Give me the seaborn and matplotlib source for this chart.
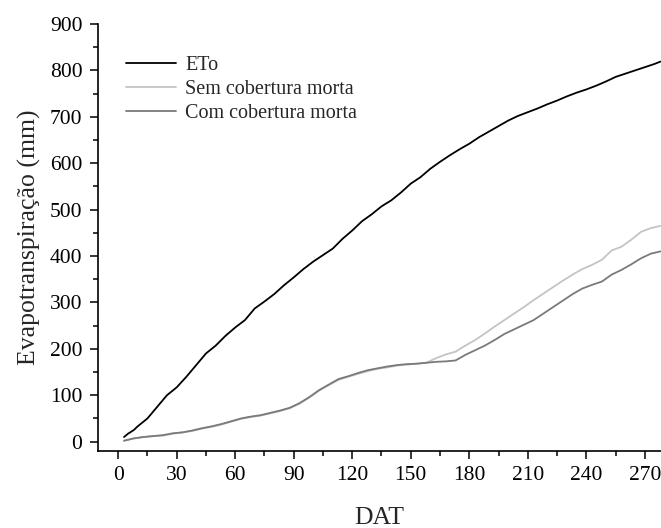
import numpy as np
import pandas as pd
import matplotlib
matplotlib.use("Agg")
import matplotlib.pyplot as plt
from matplotlib.ticker import MultipleLocator
import seaborn as sns

# ---- data ----
dat_eto = [3, 5, 8, 10, 15, 20, 25, 30, 35, 40, 45, 50, 55, 60, 65, 70, 75, 80, 85, 90,
           95, 100, 105, 110, 115, 120, 125, 130, 135, 140, 145, 150, 155, 160, 165, 170,
           175, 180, 185, 190, 195, 200, 205, 210, 215, 220, 225, 230, 235, 240, 245, 250,
           255, 260, 265, 270, 275, 278]
eto = [10, 17, 25, 33, 50, 75, 100, 117, 140, 165, 190, 207, 228, 246, 262, 287, 302, 318,
       337, 354, 372, 388, 402, 416, 437, 455, 475, 490, 507, 520, 537, 556, 570, 588, 603,
       617, 630, 642, 656, 668, 680, 692, 702, 710, 718, 727, 735, 744, 752, 759, 767, 776,
       786, 793, 800, 807, 814, 819]

dat_solo = [3, 8, 13, 18, 23, 28, 33, 38, 43, 48, 53, 58, 63, 68, 73, 78, 83, 88, 93, 98,
            103, 108, 113, 118, 123, 128, 133, 138, 143, 148, 153, 158, 163, 168, 173, 178,
            183, 188, 193, 198, 203, 208, 213, 218, 223, 228, 233, 238, 243, 248, 253, 258,
            263, 268, 273, 278]
sem_cob = [2, 7, 10, 12, 13, 17, 20, 23, 28, 32, 37, 43, 49, 53, 56, 61, 66, 72, 82, 95,
           110, 122, 133, 140, 146, 152, 157, 160, 164, 166, 168, 170, 180, 188, 194, 207,
           219, 233, 248, 262, 276, 290, 305, 319, 333, 347, 360, 372, 381, 392, 412, 420,
           435, 452, 460, 465]
com_cob = [2, 7, 10, 12, 14, 18, 20, 24, 29, 33, 38, 44, 50, 54, 57, 62, 67, 73, 83, 96,
           111, 123, 135, 141, 148, 154, 158, 162, 165, 167, 168, 170, 172, 173, 175, 187,
           197, 207, 219, 232, 242, 252, 262, 276, 290, 304, 318, 330, 338, 345, 360, 370,
           382, 395, 405, 410]

labels = ["ETo", "Sem cobertura morta", "Com cobertura morta"]
colors = ["#000000", "#c4c4c4", "#7a7a7a"]

df = pd.concat([
    pd.DataFrame({"DAT": dat_eto, "ET": eto, "serie": labels[0]}),
    pd.DataFrame({"DAT": dat_solo, "ET": sem_cob, "serie": labels[1]}),
    pd.DataFrame({"DAT": dat_solo, "ET": com_cob, "serie": labels[2]}),
], ignore_index=True)

sns.set_theme(style="ticks")
plt.rcParams["font.family"] = ["Liberation Serif", "DejaVu Serif"]

fig = plt.figure(figsize=(6.61, 5.28), dpi=100)
ax = fig.add_axes([0.1478, 0.1464, 0.8522, 0.8081])

sns.lineplot(data=df, x="DAT", y="ET", hue="serie", hue_order=labels,
             palette=dict(zip(labels, colors)), linewidth=1.3, ax=ax,
             estimator=None, sort=False)

ax.set_xlim(-10.5, 278.3)
ax.set_ylim(-19.5, 900)
ax.xaxis.set_major_locator(MultipleLocator(30))
ax.xaxis.set_minor_locator(MultipleLocator(15))
ax.yaxis.set_major_locator(MultipleLocator(100))
ax.yaxis.set_minor_locator(MultipleLocator(50))

for s in ["top", "right"]:
    ax.spines[s].set_visible(False)
for s in ["left", "bottom"]:
    ax.spines[s].set_linewidth(1.2)
    ax.spines[s].set_color("black")

ax.tick_params(which="major", direction="out", length=6, width=1.1,
               labelsize=15.5, pad=5, colors="black")
ax.tick_params(which="minor", direction="out", length=3.5, width=1.1, colors="black")

ax.set_xlabel("DAT", fontsize=18.5, labelpad=16)
ax.set_ylabel("Evapotranspiração (mm)", fontsize=18.5, labelpad=6)

leg = ax.legend(loc="upper left", bbox_to_anchor=(0.05, 0.925), frameon=False,
                fontsize=14.5, handlelength=2.5, handletextpad=0.45,
                labelspacing=0.25, borderpad=0, borderaxespad=0)
for line in leg.get_lines():
    line.set_linewidth(1.3)

fig.savefig("out.png", dpi=100)
